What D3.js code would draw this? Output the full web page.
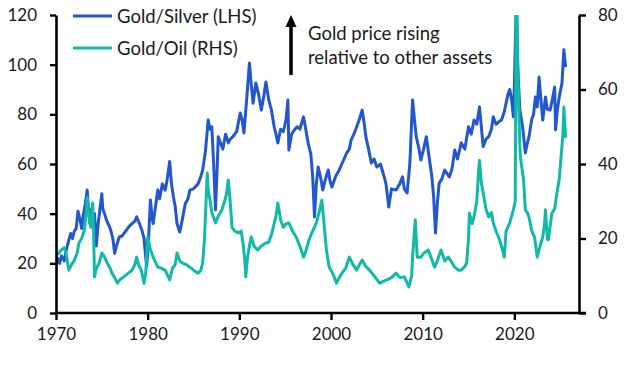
<!DOCTYPE html>
<html>
<head>
<meta charset="utf-8">
<script src="https://cdn.jsdelivr.net/npm/d3@7"></script>
<style>
  html, body { margin: 0; padding: 0; background: #fff; }
  svg { display: block; }
  text { font-family: Lato, "Open Sans", sans-serif; fill: #1a1a1a; }
</style>
</head>
<body>
<svg id="chart" width="634" height="368"></svg>
<script>
// ---- Data ----
const silverYears = [1970.0,1970.2,1970.4,1970.6,1970.9,1971.1,1971.3,1971.6,1971.8,1972.0,1972.2,1972.4,1972.6,1972.8,1973.0,1973.2,1973.4,1973.5,1973.7,1973.9,1974.0,1974.2,1974.4,1974.6,1974.8,1975.0,1975.1,1975.3,1975.5,1975.8,1976.0,1976.2,1976.4,1976.6,1976.9,1977.2,1977.6,1978.0,1978.3,1978.6,1978.8,1979.1,1979.4,1979.6,1979.8,1979.9,1980.1,1980.3,1980.5,1980.6,1980.9,1981.1,1981.3,1981.6,1981.9,1982.1,1982.4,1982.6,1982.8,1983.0,1983.2,1983.5,1983.8,1984.1,1984.4,1984.6,1985.0,1985.5,1985.8,1986.0,1986.3,1986.6,1986.8,1987.0,1987.2,1987.4,1987.6,1987.7,1988.0,1988.2,1988.5,1988.8,1989.0,1989.3,1989.7,1990.1,1990.3,1990.5,1990.8,1991.1,1991.3,1991.5,1991.8,1992.1,1992.4,1992.7,1992.9,1993.2,1993.5,1993.8,1994.0,1994.2,1994.5,1994.8,1995.1,1995.3,1995.4,1995.7,1996.0,1996.3,1996.6,1997.0,1997.2,1997.5,1997.8,1998.0,1998.2,1998.4,1998.6,1998.9,1999.1,1999.4,1999.7,1999.9,2000.1,2000.5,2000.9,2001.3,2001.7,2002.0,2002.2,2002.5,2002.8,2003.1,2003.4,2003.6,2003.8,2004.1,2004.4,2004.7,2005.0,2005.4,2005.8,2006.0,2006.3,2006.6,2007.1,2007.5,2007.8,2008.0,2008.3,2008.6,2008.9,2009.1,2009.3,2009.6,2009.8,2010.1,2010.4,2010.7,2011.0,2011.2,2011.4,2011.6,2011.8,2012.1,2012.4,2012.9,2013.2,2013.5,2013.8,2014.2,2014.6,2015.0,2015.3,2015.6,2015.9,2016.2,2016.4,2016.6,2016.9,2017.2,2017.5,2017.7,2018.0,2018.3,2018.6,2018.9,2019.1,2019.3,2019.5,2019.7,2019.9,2020.0,2020.2,2020.3,2020.6,2020.9,2021.2,2021.4,2021.6,2021.9,2022.1,2022.3,2022.5,2022.7,2022.9,2023.1,2023.4,2023.6,2023.9,2024.1,2024.4,2024.5,2024.7,2024.9,2025.2,2025.4,2025.6];
const silverValues = [19,22,20,23,21,25,28,32,30,33,34,41,38,34,40,44,49.5,44,36,42,38.7,40,27,36,42,48,42,40,37.5,35,33,30,24,27,30.6,31,33,35,36,37,38.7,36,33,30,22,19,30,45.5,38,36,44,49.5,46,52,49.5,53,61,52,47,43,36,32.6,38,44,46,49.5,50,52,55,57.6,65,77.7,74,75,60,41.5,60,71,68,66,72,68.5,70,71,73,80.5,78,72.5,86,100.7,92,84.5,92.6,88,81.7,88,93,86,81.7,75,72,68.5,74,73,78,85.8,65.6,72,73.7,75,74,79,75,68.5,64,55,38.7,52,58.8,54,49.5,54,57.6,53,50.7,55,57.6,61,64.4,66,69.7,72,75,78,81.7,77,71,66,60.4,62,58.8,60,54.8,52,42.7,50,49.5,52,54.8,50,48.3,60,85.8,78,71,66,61.6,66,71,62.8,55,46.7,32.2,44,52.3,54,57.6,54.8,58,65.6,62,68.5,66,75,72,77.7,76,83,75,67,70,71,74,79,76,77,77.7,81,84.5,88,90,86,79,91,124,105,81.7,75,64.4,68,71,78,80,87,83,95,86,77.7,87,82,81.7,85,91,73.7,82,87,92.6,106,99];

const oilYears = [1970.0,1970.3,1970.6,1970.9,1971.1,1971.4,1971.7,1972.0,1972.3,1972.5,1972.8,1973.1,1973.3,1973.4,1973.6,1973.8,1974.0,1974.1,1974.2,1974.4,1974.7,1975.0,1975.3,1975.6,1975.9,1976.1,1976.4,1976.7,1977.0,1977.4,1977.8,1978.3,1978.6,1978.8,1979.0,1979.3,1979.6,1979.8,1980.0,1980.3,1980.6,1981.1,1981.5,1981.9,1982.2,1982.4,1982.7,1983.0,1983.2,1983.5,1983.8,1984.2,1984.6,1985.0,1985.5,1985.8,1986.0,1986.2,1986.5,1986.6,1986.8,1987.0,1987.4,1987.7,1988.1,1988.4,1988.6,1988.8,1989.0,1989.2,1989.5,1989.9,1990.2,1990.4,1990.6,1990.7,1990.9,1991.1,1991.3,1991.6,1992.0,1992.4,1992.9,1993.2,1993.5,1993.7,1994.0,1994.2,1994.5,1994.8,1995.1,1995.4,1995.8,1996.2,1996.6,1997.0,1997.3,1997.6,1998.0,1998.4,1998.7,1999.0,1999.2,1999.5,1999.8,2000.0,2000.3,2000.6,2000.9,2001.2,2001.6,2002.0,2002.4,2002.8,2003.1,2003.4,2003.8,2004.2,2004.7,2005.0,2005.3,2005.7,2006.1,2006.6,2007.1,2007.5,2008.0,2008.5,2008.8,2008.9,2009.1,2009.2,2009.4,2009.8,2010.1,2010.6,2010.9,2011.3,2011.6,2012.0,2012.4,2012.8,2013.2,2013.5,2013.9,2014.2,2014.6,2014.8,2015.0,2015.1,2015.4,2015.6,2015.9,2016.1,2016.2,2016.4,2016.6,2016.9,2017.2,2017.5,2017.7,2018.0,2018.4,2018.7,2018.9,2019.1,2019.5,2019.9,2020.1,2020.2,2020.3,2020.4,2020.6,2020.7,2021.0,2021.2,2021.4,2021.6,2021.9,2022.2,2022.5,2022.7,2023.1,2023.3,2023.4,2023.6,2023.7,2024.1,2024.4,2024.7,2024.9,2025.1,2025.3,2025.4,2025.6];
const oilValues = [15.6,16,17,17.5,16,11.5,13,14.2,16,18.8,20,22.3,27,31,26,23,29.5,22,9.7,12,13.4,16.1,15,13.4,12,10.7,9.5,8,9,9.7,10.5,11.5,13,15,13,11.5,8,11,20.4,17,15,12.3,12,11.5,10,8.9,12,13,16.1,14,13.4,13,12.3,11.5,10.7,11.5,13.4,20,37.6,33,30.3,27,24.2,26,27.7,30,32,35.7,30,23,22,21.5,22,18.8,14,9.7,15,18,20.4,18,16.9,18,18.8,19,21,23,26,29.5,25,23,24,24.2,22,20.4,18,15,17,19.6,22,24.2,27,30.3,25,16.9,12.3,11.5,10,8,9.5,10.7,12,15,13,11.5,13,14.2,12.5,11.5,10,9,8,8.5,8.9,9.5,10.7,9.5,9.7,7,10,15,22,25,15,15,16,16.9,15,12.3,14,16.9,14,15,13.5,12.3,11.5,11.5,12.5,13.4,20,26.8,24,25.8,30,38,41,35,32.2,28,25.8,27,24.2,22,19.6,17,15,22,24.2,27.7,30,84,82,63,45,41,36,27.7,27,25.8,22,20.4,15,17,20.4,24,27.7,20,19.6,26.8,28,33,36,41.9,48,55.3,47];

const xTicks = [1970, 1980, 1990, 2000, 2010, 2020];
const leftTicks = [0, 20, 40, 60, 80, 100, 120];
const rightTicks = [0, 20, 40, 60, 80];
const seriesNames = ["Gold/Silver (LHS)", "Gold/Oil (RHS)"];
const seriesColors = ["#2257cf", "#11b9a7"];
const noteLines = ["Gold price rising", "relative to other assets"];

// ---- Layout ----
const L = 56, R = 579, T = 15, B = 313;
const svg = d3.select("#chart");

const x = d3.scaleLinear().domain([1970, 2027]).range([L, 578.5]);
const yL = d3.scaleLinear().domain([0, 120]).range([B, T]);
const yR = d3.scaleLinear().domain([0, 80]).range([B, T]);

svg.append("defs").append("clipPath").attr("id", "plotclip")
  .append("rect").attr("x", L).attr("y", T).attr("width", R - L).attr("height", B - T);

const silver = silverYears.map((d, i) => [d, silverValues[i]]);
const oil = oilYears.map((d, i) => [d, oilValues[i]]);

const g = svg.append("g").attr("clip-path", "url(#plotclip)");
g.append("path").datum(silver)
  .attr("fill", "none").attr("stroke", seriesColors[0]).attr("stroke-width", 3)
  .attr("stroke-linejoin", "round")
  .attr("d", d3.line().x(d => x(d[0])).y(d => yL(d[1])));
g.append("path").datum(oil)
  .attr("fill", "none").attr("stroke", seriesColors[1]).attr("stroke-width", 3)
  .attr("stroke-linejoin", "round")
  .attr("d", d3.line().x(d => x(d[0])).y(d => yR(d[1])));

// ---- Axes ----
function styleAxis(sel) {
  sel.selectAll("path.domain").attr("stroke", "#000").attr("stroke-width", 2.6);
  sel.selectAll(".tick line").attr("stroke", "#000").attr("stroke-width", 2.4);
  sel.selectAll(".tick text").style("font-size", "17px").style("font-family", "Lato, sans-serif").attr("fill", "#1a1a1a");
}

const ax = svg.append("g").attr("transform", `translate(0,${B})`)
  .call(d3.axisBottom(x).tickValues(xTicks).tickFormat(d3.format("d")).tickSize(7).tickSizeOuter(0).tickPadding(8));
ax.select("path.domain").attr("d", `M${L},0H${R + 7}`);
styleAxis(ax);

const ayl = svg.append("g").attr("transform", `translate(${L},0)`)
  .call(d3.axisLeft(yL).tickValues(leftTicks).tickSize(6).tickSizeOuter(0).tickPadding(13));
styleAxis(ayl);

const ayr = svg.append("g").attr("transform", `translate(${R},0)`)
  .call(d3.axisRight(yR).tickValues(rightTicks).tickSize(7).tickSizeOuter(0).tickPadding(12));
styleAxis(ayr);

// ---- Legend ----
const legY = [16, 48];
seriesNames.forEach((name, i) => {
  svg.append("line").attr("x1", 73).attr("x2", 112).attr("y1", legY[i]).attr("y2", legY[i])
    .attr("stroke", seriesColors[i]).attr("stroke-width", 3);
  svg.append("text").attr("x", 117).attr("y", legY[i] + 6.5).style("font-size", "18.5px").text(name);
});

// ---- Annotation ----
svg.append("line").attr("x1", 291).attr("x2", 291).attr("y1", 75).attr("y2", 25)
  .attr("stroke", "#000").attr("stroke-width", 3.5);
svg.append("path").attr("d", "M285.5,27 L291,15 L296.5,27 Z").attr("fill", "#000");
noteLines.forEach((t, i) => {
  svg.append("text").attr("x", 308).attr("y", 40 + i * 24).style("font-size", "18.5px").text(t);
});
</script>
</body>
</html>
